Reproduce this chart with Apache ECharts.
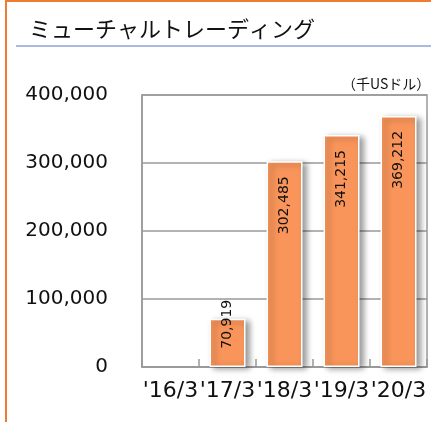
<!DOCTYPE html>
<html>
<head>
    <meta charset="UTF-8">
    <title>ミューチャルトレーディング</title>
    <script src="https://cdn.jsdelivr.net/npm/echarts@6/dist/echarts.min.js"></script>
    <style>
        html, body { margin: 0; padding: 0; background: #fff; }
    </style>
</head>
<body>
    <div id="chart" style="width:431px; height:422px;"></div>
    <script>
        var categories = ["'16/3", "'17/3", "'18/3", "'19/3", "'20/3"];
        var sales = [null, 70919, 302485, 341215, 369212];
        var yTicks = [0, 100000, 200000, 300000, 400000];

        function commas(v) {
            return String(v).replace(/\B(?=(\d{3})+(?!\d))/g, ',');
        }

        var seriesData = sales.map(function (v, i) {
            if (v === null) return '-';
            // small bar: excel pushes the label up past the bar top
            if (v < 100000) {
                return { value: v, label: { position: ['50%', -19] } };
            }
            return v;
        });

        var chart = echarts.init(document.getElementById('chart'), null, {renderer: 'canvas'});
        chart.setOption({
            animation: false,
            title: {
                text: 'ミューチャルトレーディング',
                left: 24,
                top: 13,
                textStyle: {
                    fontFamily: 'Noto Sans CJK JP',
                    fontSize: 22,
                    fontWeight: 'normal',
                    color: '#111'
                }
            },
            graphic: [
                {
                    type: 'rect',
                    shape: {x: 6, y: 1, width: 600, height: 600},
                    style: {fill: null, stroke: '#EE7D31', lineWidth: 2},
                    silent: true
                },
                {
                    type: 'line',
                    shape: {x1: 16, y1: 46, x2: 431, y2: 46},
                    style: {stroke: '#A9BCE0', lineWidth: 2},
                    silent: true
                },
                {
                    type: 'text',
                    x: 342,
                    y: 84,
                    style: {
                        text: '（千USドル）',
                        font: '14px "Noto Sans CJK JP"',
                        fill: '#111',
                        verticalAlign: 'middle'
                    },
                    silent: true
                }
            ],
            grid: {
                left: 142,
                top: 95,
                right: 4,
                bottom: 55,
                show: true,
                borderColor: '#999',
                borderWidth: 1.5
            },
            xAxis: {
                type: 'category',
                data: categories,
                axisLine: {lineStyle: {color: '#999', width: 1.5}},
                axisTick: {show: true, inside: true, length: 8, interval: 0, lineStyle: {color: '#999', width: 1.5}},
                axisLabel: {
                    interval: 0,
                    margin: 13,
                    fontFamily: 'DejaVu Sans',
                    fontSize: 22,
                    color: '#111'
                }
            },
            yAxis: {
                type: 'value',
                min: yTicks[0],
                max: yTicks[yTicks.length - 1],
                interval: yTicks[1] - yTicks[0],
                axisLine: {show: true, lineStyle: {color: '#999', width: 1.5}},
                axisTick: {show: false},
                splitLine: {lineStyle: {color: '#999', width: 1.5}},
                axisLabel: {
                    margin: 34,
                    fontFamily: 'DejaVu Sans',
                    fontSize: 20,
                    color: '#111',
                    formatter: function (v) { return commas(v); }
                }
            },
            series: [{
                type: 'bar',
                data: seriesData,
                barWidth: 36,
                itemStyle: {
                    color: '#F9955A',
                    borderColor: '#fff',
                    borderWidth: 1.5,
                    shadowColor: 'rgba(0,0,0,0.4)',
                    shadowBlur: 6,
                    shadowOffsetX: 4,
                    shadowOffsetY: 2
                },
                label: {
                    show: true,
                    position: ['50%', 15],
                    rotate: 90,
                    align: 'right',
                    verticalAlign: 'middle',
                    fontFamily: 'DejaVu Sans',
                    fontSize: 14,
                    color: '#111',
                    formatter: function (p) { return commas(p.value); }
                }
            }]
        });
    </script>
</body>
</html>
